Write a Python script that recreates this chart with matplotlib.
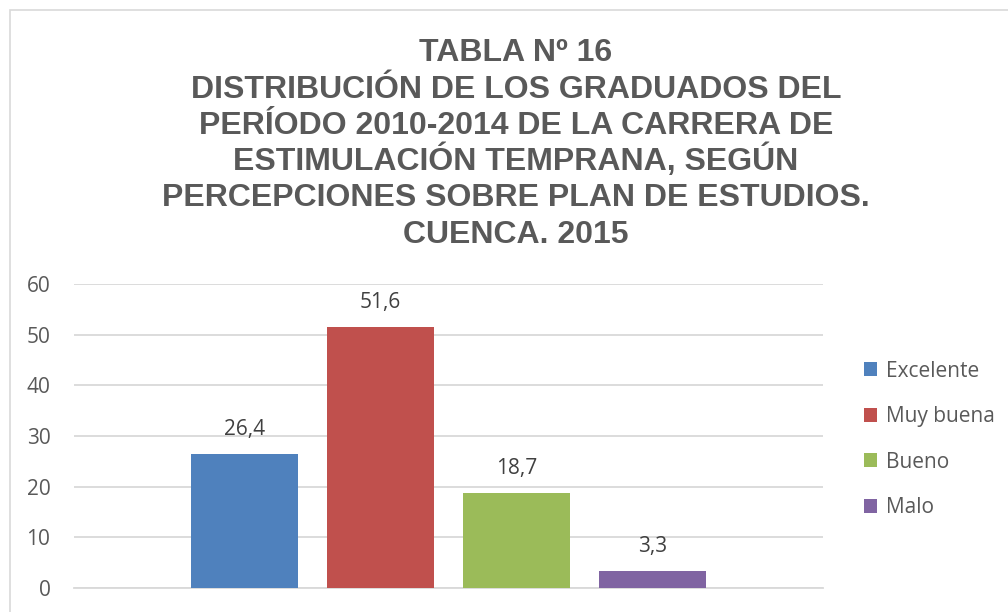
import numpy as np
import matplotlib.pyplot as plt
from matplotlib.patches import Rectangle

## datos del grafico
categorias = ['Excelente', 'Muy buena', 'Bueno', 'Malo']
porcentajes = [26.4, 51.6, 18.7, 3.3]
colores = ['#4f81bd', '#c0504d', '#9bbb59', '#8064a2']
yticks = [0, 10, 20, 30, 40, 50, 60]
titulo = ['TABLA Nº 16',
          'DISTRIBUCIÓN DE LOS GRADUADOS DEL',
          'PERÍODO 2010-2014 DE LA CARRERA DE',
          'ESTIMULACIÓN TEMPRANA, SEGÚN',
          'PERCEPCIONES SOBRE PLAN DE ESTUDIOS.',
          'CUENCA. 2015']

plt.rcParams['font.family'] = ['Open Sans', 'DejaVu Sans']

fig = plt.figure(figsize=(10.08, 6.12), dpi=100)
W, H = 1008, 612

##borde del grafico
fig.patches.append(Rectangle((10 / W, -0.1), 1.2, (H - 10) / H + 0.1,
                             transform=fig.transFigure, fill=False,
                             edgecolor='#d9d9d9', linewidth=1.2))

ax = fig.add_axes([74 / W, (H - 588) / H, (823 - 74) / W, (588 - 284) / H])

x = np.arange(len(categorias))
for i in range(len(categorias)):
    ax.bar(x[i], porcentajes[i], width=0.787, color=colores[i],
           label=categorias[i], zorder=3)
    ax.annotate(f'{porcentajes[i]:.1f}'.replace('.', ','),
                (x[i], porcentajes[i]), xytext=(0, 10),
                textcoords='offset points', ha='center', va='bottom',
                fontsize=15, color='#404040')

ax.set_xlim(-1.25, 4.25)
ax.set_ylim(0, 60)
ax.set_yticks(yticks)
ax.set_xticks([])
ax.yaxis.grid(True, color='#d9d9d9', linewidth=1.3, zorder=0)
for s in ['top', 'right', 'left']:
    ax.spines[s].set_visible(False)
ax.spines['bottom'].set_color('#d9d9d9')
ax.spines['bottom'].set_linewidth(1.3)
ax.tick_params(axis='y', length=0, pad=17, labelsize=15, labelcolor='#595959')

fig.legend(loc='upper left', bbox_to_anchor=(845 / W, (H - 342) / H),
           frameon=False, fontsize=15, labelcolor='#595959',
           handlelength=0.65, handleheight=0.65, handletextpad=0.4,
           labelspacing=1.17)

##titulo, una linea a la vez
baselines = [61, 97.5, 134, 170, 206.5, 243]
for linea, yb in zip(titulo, baselines):
    fig.text(516 / W, (H - yb) / H, linea, ha='center', va='baseline',
             fontsize=23, fontweight='bold', color='#595959',
             family=['Liberation Sans', 'DejaVu Sans'])

fig.savefig('out.png', dpi=100)
